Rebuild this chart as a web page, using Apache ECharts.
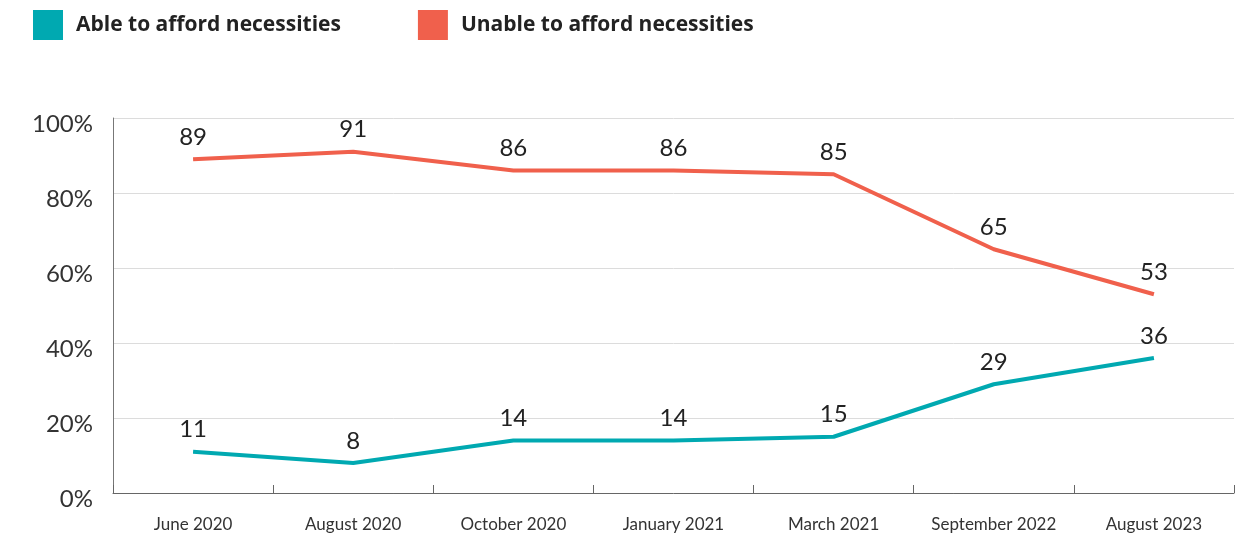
<!DOCTYPE html>
<html>
<head>
<meta charset="utf-8">
<script src="https://cdn.jsdelivr.net/npm/echarts@6/dist/echarts.min.js"></script>
<style>
  html, body { margin: 0; padding: 0; background: #fff; }
  #chart { width: 1243px; height: 537px; }
</style>
</head>
<body>
<div id="chart"></div>
<script>
const categories = ["June 2020", "August 2020", "October 2020", "January 2021", "March 2021", "September 2022", "August 2023"];
const ableValues = [11, 8, 14, 14, 15, 29, 36];
const unableValues = [89, 91, 86, 86, 85, 65, 53];
const seriesNames = ["Able to afford necessities", "Unable to afford necessities"];
const colors = ["#00a9b1", "#f0604c"];

const chart = echarts.init(document.getElementById("chart"));
const font = "Lato, 'Noto Sans', sans-serif";

// line without visible symbols, but keep labels
const lineSeries = (name, data) => ({
  name: name,
  type: "line",
  data: data,
  symbol: "circle",
  symbolSize: 0.1,
  lineStyle: { width: 4 },
  label: { show: true, position: "top", distance: 10, fontFamily: font, fontSize: 24, color: "#222" },
});

chart.setOption({
  color: colors,
  animation: false,
  legend: {
    left: 28,
    top: 5,
    icon: "rect",
    itemWidth: 30,
    itemHeight: 30,
    itemGap: 77,
    textStyle: {
      fontFamily: "'Open Sans', sans-serif",
      fontSize: 21,
      fontWeight: "bold",
      color: "#222",
      padding: [0, 0, 0, 8],
    },
    data: seriesNames,
  },
  grid: { left: 113, right: 9, top: 118, bottom: 44, containLabel: false },
  xAxis: {
    type: "category",
    data: categories,
    boundaryGap: true,
    axisLine: { lineStyle: { color: "#666", width: 1 } },
    axisTick: { show: true, inside: true, length: 8, interval: 0, lineStyle: { color: "#666" } },
    axisLabel: { interval: 0, fontFamily: font, fontSize: 17, color: "#333", margin: 23 },
  },
  yAxis: {
    type: "value",
    min: 0,
    max: 100,
    interval: 20,
    axisLine: { show: true, lineStyle: { color: "#777", width: 1 } },
    axisTick: { show: false },
    axisLabel: {
      margin: 20,
      formatter: "{v|{value}%}",
      rich: { v: { fontFamily: font, fontSize: 24, color: "#333", padding: [12, 0, 0, 0] } },
    },
    splitLine: { lineStyle: { color: "#dcdcdc", width: 1 } },
  },
  series: [
    lineSeries(seriesNames[0], ableValues),
    lineSeries(seriesNames[1], unableValues),
  ],
});
</script>
</body>
</html>
